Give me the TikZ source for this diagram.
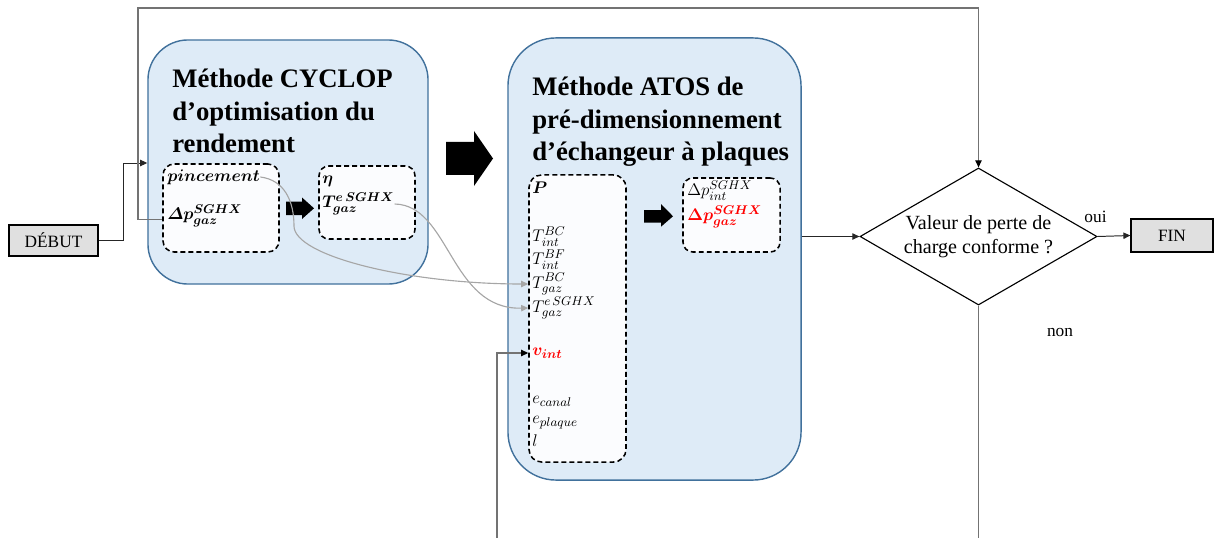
\documentclass[tikz,border=0pt]{standalone}
\usepackage{amsmath}
\usepackage{fontspec}
\setmainfont{Liberation Serif}
\usetikzlibrary{shapes.geometric,arrows.meta}
\definecolor{boxblue}{RGB}{222,235,247}
\definecolor{boxline}{RGB}{65,113,156}
\definecolor{innerfill}{RGB}{251,252,254}
\definecolor{endfill}{RGB}{224,224,224}
\definecolor{feedgray}{RGB}{166,166,166}
\begin{document}
\begin{tikzpicture}[x=0.025cm, y=0.025cm,
    method/.style={draw=boxline, line width=1pt, fill=boxblue, inner sep=0pt},
    varbox/.style={draw, dash pattern=on 3.5pt off 2.2pt, line width=1.1pt, fill=innerfill, inner sep=0pt},
    methtitle/.style={anchor=north west, align=left, inner sep=0pt, font=\fontsize{19}{23}\selectfont\bfseries},
    varlabel/.style={anchor=west, inner sep=0pt, font=\fontsize{12.5}{14}\selectfont},
    endbox/.style={draw, fill=endfill, line width=0.8pt, inner sep=0pt, font=\fontsize{12.3}{14}\selectfont},
    answer/.style={inner sep=0pt, font=\fontsize{12.3}{14}\selectfont},
    link/.style={line width=0.7pt, black!85, -{Triangle[length=5pt,width=4.5pt]}},
    backline/.style={line width=0.8pt, black!55},
    backarrow/.style={backline, -{Triangle[length=5pt,width=4.5pt,color=black]}},
    feed/.style={line width=0.8pt, feedgray, -{Triangle[length=5pt,width=4.5pt]}}
  ]
  \useasboundingbox (0,0) rectangle (1215,-538);

  \node[method, rounded corners=1cm, minimum width=7cm, minimum height=6.1cm] (cyclop) at (288,-162) {};
  \node[method, rounded corners=1.2cm, minimum width=7.325cm, minimum height=11.05cm] (atos) at (654.5,-259) {};
  \node[methtitle] (cyctitle) at (172,-69) {Méthode CYCLOP\\d’optimisation du\\rendement};
  \node[methtitle] (atostitle) at (532,-77) {Méthode ATOS de\\pré-dimensionnement\\d’échangeur à plaques};

  \node[varbox, rounded corners=8pt, minimum width=2.9cm, minimum height=2.2cm] (pinbox) at (221,-208) {};
  \node[varbox, rounded corners=7pt, minimum width=2.4cm, minimum height=1.825cm] (etabox) at (367,-202.5) {};
  \node[varbox, rounded corners=9pt, minimum width=2.425cm, minimum height=7.175cm] (pbox) at (577.5,-318.5) {};
  \node[varbox, rounded corners=7pt, minimum width=2.425cm, minimum height=1.85cm] (dpbox) at (731.5,-215) {};

  \node[varlabel] (pin) at (167,-177) {$\boldsymbol{pincement}$};
  \node[varlabel] (dpgaz) at (167,-216) {$\boldsymbol{\varDelta p^{SGHX}_{gaz}}$};
  \node[varlabel] (eta) at (322,-181) {$\boldsymbol{\eta}$};
  \node[varlabel] (tesghx) at (322,-204) {$\boldsymbol{T^{e\,SGHX}_{gaz}}$};
  \node[varlabel] (pp) at (532,-188) {$\boldsymbol{P}$};
  \node[varlabel] (tbcint) at (532,-237) {$T^{BC}_{int}$};
  \node[varlabel] (tbfint) at (532,-260) {$T^{BF}_{int}$};
  \node[varlabel] (tbcgaz) at (532,-284) {$T^{BC}_{gaz}$};
  \node[varlabel] (tegaz) at (532,-308) {$T^{e\,SGHX}_{gaz}$};
  \node[varlabel, red] (vint) at (532,-353) {$\boldsymbol{v_{int}}$};
  \node[varlabel] (ecanal) at (532,-401) {$e_{canal}$};
  \node[varlabel] (eplaque) at (532,-423) {$e_{plaque}$};
  \node[varlabel] (ll) at (532,-441) {$l$};
  \node[varlabel] (dpint) at (687,-191) {$\Delta p^{SGHX}_{int}$};
  \node[varlabel, red] (dpgazr) at (687,-217) {$\boldsymbol{\Delta p^{SGHX}_{gaz}}$};

  \fill (446,-142) -- (474,-142) -- (474,-131) -- (493,-158.5) -- (474,-186) -- (474,-175) -- (446,-175) -- cycle;
  \fill (286,-201.5) -- (302,-201.5) -- (302,-197.5) -- (314,-208.3) -- (302,-219) -- (302,-215) -- (286,-215) -- cycle;
  \fill (644,-210) -- (661,-210) -- (661,-204) -- (673,-216.3) -- (661,-226.7) -- (661,-222.7) -- (644,-222.7) -- cycle;

  \node[diamond, draw, line width=0.8pt, aspect=1.73, minimum width=5.925cm, minimum height=3.425cm,
    inner sep=0pt, align=center, font=\fontsize{14.3}{17}\selectfont] (check) at (978.5,-236.5) {Valeur de perte de\\charge conforme ?};
  \node[endbox, minimum width=2.225cm, minimum height=0.775cm] (start) at (53.5,-240.5) {DÉBUT};
  \node[endbox, minimum width=2.05cm, minimum height=0.825cm] (fin) at (1172,-235.5) {FIN};
  \node[answer] (oui) at (1095.5,-216.5) {oui};
  \node[answer] (non) at (1060,-332.5) {non};

  \coordinate (startup) at (123,-163);
  \coordinate (looptop) at (138,-8);
  \coordinate (nonend) at (978.5,-538);
  \coordinate (retour) at (497,-538);
  \coordinate (bendpin) at (294,-226);

  \draw[link] (start.east) -| (startup) -- (cyclop.west |- startup);
  \draw[link] (atos.east |- check.west) -- (check.west);
  \draw[link] (check.east) -- (fin.west);
  \draw[backarrow] (pinbox.west |- dpgaz.base) -| (looptop) -| (check.north);
  \draw[backline] (check.south) -- (nonend);
  \draw[backarrow] (retour) |- (pbox.west |- vint);

  \draw[feed] (pin.east) .. controls +(24,-3) and +(0,25) .. (bendpin) .. controls +(0,-30) and +(-120,0) .. (pbox.west |- tbcgaz);
  \draw[feed] (tesghx.east) .. controls (450,-205) and (450,-310) .. (pbox.west |- tegaz);
\end{tikzpicture}
\end{document}
